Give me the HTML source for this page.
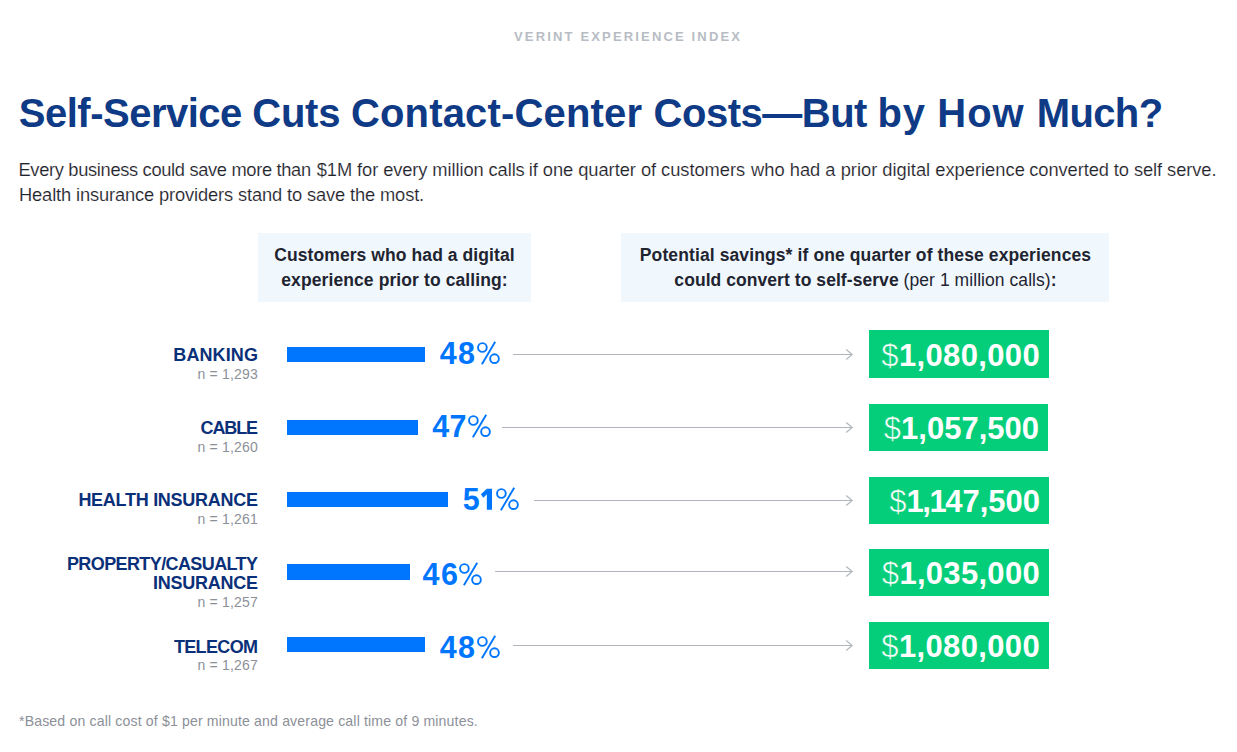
<!DOCTYPE html>
<html><head><meta charset="utf-8"><style>
html,body{margin:0;padding:0;background:#fff;}
body{width:1237px;height:752px;position:relative;overflow:hidden;font-family:"Liberation Sans", sans-serif;}
.t{position:absolute;white-space:nowrap;}
.r{position:absolute;}
</style></head><body>
<div class="t" style="top:29.99px;font-size:13px;line-height:13px;font-weight:700;color:#b7bcc4;letter-spacing:2.16px;left:514px;">VERINT EXPERIENCE INDEX</div>
<div class="t" style="top:93.13px;font-size:40px;line-height:40px;font-weight:700;color:#0f3a85;letter-spacing:-0.51px;left:18.85px;">Self-Service</div>
<div class="t" style="top:93.13px;font-size:40px;line-height:40px;font-weight:700;color:#0f3a85;letter-spacing:-0.28px;left:252.36px;">Cuts</div>
<div class="t" style="top:93.13px;font-size:40px;line-height:40px;font-weight:700;color:#0f3a85;letter-spacing:0.17px;left:350.96px;">Contact-Center</div>
<div class="t" style="top:93.13px;font-size:40px;line-height:40px;font-weight:700;color:#0f3a85;letter-spacing:-0.49px;left:653.56px;">Costs—But</div>
<div class="t" style="top:93.13px;font-size:40px;line-height:40px;font-weight:700;color:#0f3a85;letter-spacing:0.65px;left:877.56px;">by</div>
<div class="t" style="top:93.13px;font-size:40px;line-height:40px;font-weight:700;color:#0f3a85;letter-spacing:0.99px;left:937.32px;">How</div>
<div class="t" style="top:93.13px;font-size:40px;line-height:40px;font-weight:700;color:#0f3a85;letter-spacing:-0.65px;left:1036.82px;">Much?</div>
<div class="t" style="top:160.51px;font-size:18.3px;line-height:18.3px;font-weight:400;color:#1f232b;letter-spacing:-0.33px;left:18.5px;-webkit-text-stroke:0.15px #fff;">Every business could save more than</div>
<div class="t" style="top:160.51px;font-size:18.3px;line-height:18.3px;font-weight:400;color:#1f232b;letter-spacing:-0.09px;left:316.8px;-webkit-text-stroke:0.15px #fff;">$1M for every million calls</div>
<div class="t" style="top:160.51px;font-size:18.3px;line-height:18.3px;font-weight:400;color:#1f232b;letter-spacing:-0.04px;left:528.7px;-webkit-text-stroke:0.15px #fff;">if one quarter of customers</div>
<div class="t" style="top:160.51px;font-size:18.3px;line-height:18.3px;font-weight:400;color:#1f232b;letter-spacing:0.01px;left:751.1px;-webkit-text-stroke:0.15px #fff;">who had a prior digital experience</div>
<div class="t" style="top:160.51px;font-size:18.3px;line-height:18.3px;font-weight:400;color:#1f232b;letter-spacing:-0.08px;left:1029.3px;-webkit-text-stroke:0.15px #fff;">converted to self serve.</div>
<div class="t" style="top:185.51px;font-size:18.3px;line-height:18.3px;font-weight:400;color:#1f232b;letter-spacing:-0.13px;left:19px;-webkit-text-stroke:0.15px #fff;">Health insurance providers stand to save the most.</div>
<div class="r" style="left:258px;top:233px;width:273px;height:69px;background:#f0f8fe"></div>
<div class="r" style="left:621px;top:233px;width:488px;height:69px;background:#f0f8fe"></div>
<div class="t" style="top:247.48px;font-size:17.5px;line-height:17.5px;font-weight:700;color:#1f2430;letter-spacing:0.08px;left:-205.5px;width:1200px;text-align:center;">Customers who had a digital</div>
<div class="t" style="top:272.48px;font-size:17.5px;line-height:17.5px;font-weight:700;color:#1f2430;letter-spacing:0.1px;left:-205.5px;width:1200px;text-align:center;">experience prior to calling:</div>
<div class="t" style="top:247.48px;font-size:17.5px;line-height:17.5px;font-weight:700;color:#1f2430;letter-spacing:0.11px;left:265.5px;width:1200px;text-align:center;">Potential savings* if one quarter of these experiences</div>
<div class="t" style="top:272.48px;font-size:17.5px;line-height:17.5px;font-weight:700;color:#1f2430;letter-spacing:0.06px;left:265.5px;width:1200px;text-align:center;">could convert to self-serve <span style="font-weight:400">(per 1 million calls)</span>:</div>
<div class="t" style="top:345.66px;font-size:18px;line-height:18px;font-weight:700;color:#0a3079;letter-spacing:0.1px;right:979px;text-align:right;">BANKING</div>
<div class="t" style="top:367.05px;font-size:14px;line-height:14px;font-weight:400;color:#8c9099;letter-spacing:0.2px;right:979px;text-align:right;">n = 1,293</div>
<div class="r" style="left:287px;top:347px;width:138px;height:15px;background:#0076ff"></div>
<div class="t" style="top:338.18px;font-size:30.5px;line-height:30.5px;font-weight:700;color:#0076ff;left:439.71px;">4</div>
<div class="t" style="top:338.18px;font-size:30.5px;line-height:30.5px;font-weight:700;color:#0076ff;left:458.12px;">8</div>
<svg class="r" style="left:474.8px;top:337.8px" width="28" height="30"><g transform="translate(2,26)" stroke="#0076ff" stroke-width="1.9" fill="none"><circle cx="5.4" cy="-16.5" r="4.35"/><circle cx="17.5" cy="-5.35" r="4.35"/><path d="M4.9 0.2L18.2 -22.3"/></g></svg>
<svg class="r" style="left:513px;top:346px" width="342.2" height="17"><path d="M0 8.5H339.2M333.2 3.5L339.2 8.5L333.2 13.5" stroke="#b0b5bc" stroke-width="1.1" fill="none"/></svg>
<div class="r" style="left:869px;top:330px;width:180px;height:48px;background:#05ce7a"></div>
<div class="t" style="top:339.65px;font-size:31px;line-height:31px;font-weight:700;color:#fff;letter-spacing:0.35px;right:197px;text-align:right;"><span style="font-weight:400;-webkit-text-stroke:0.6px #05ce7a">$</span>1,080,000</div>
<div class="t" style="top:418.56px;font-size:18px;line-height:18px;font-weight:700;color:#0a3079;letter-spacing:-1.15px;right:980.15px;text-align:right;">CABLE</div>
<div class="t" style="top:440.15px;font-size:14px;line-height:14px;font-weight:400;color:#8c9099;letter-spacing:0.2px;right:979px;text-align:right;">n = 1,260</div>
<div class="r" style="left:287px;top:420px;width:131px;height:15px;background:#0076ff"></div>
<div class="t" style="top:411.28px;font-size:30.5px;line-height:30.5px;font-weight:700;color:#0076ff;left:432.21px;">4</div>
<div class="t" style="top:411.28px;font-size:30.5px;line-height:30.5px;font-weight:700;color:#0076ff;left:449.5px;">7</div>
<svg class="r" style="left:466.4px;top:410.9px" width="28" height="30"><g transform="translate(2,26)" stroke="#0076ff" stroke-width="1.9" fill="none"><circle cx="5.4" cy="-16.5" r="4.35"/><circle cx="17.5" cy="-5.35" r="4.35"/><path d="M4.9 0.2L18.2 -22.3"/></g></svg>
<svg class="r" style="left:502px;top:419px" width="353.2" height="17"><path d="M0 8.5H350.2M344.2 3.5L350.2 8.5L344.2 13.5" stroke="#b0b5bc" stroke-width="1.1" fill="none"/></svg>
<div class="r" style="left:869px;top:404px;width:179px;height:47px;background:#05ce7a"></div>
<div class="t" style="top:412.65px;font-size:31px;line-height:31px;font-weight:700;color:#fff;right:198px;text-align:right;"><span style="font-weight:400;-webkit-text-stroke:0.6px #05ce7a">$</span>1,057,500</div>
<div class="t" style="top:490.66px;font-size:18px;line-height:18px;font-weight:700;color:#0a3079;letter-spacing:-0.27px;right:979.27px;text-align:right;">HEALTH INSURANCE</div>
<div class="t" style="top:511.75px;font-size:14px;line-height:14px;font-weight:400;color:#8c9099;letter-spacing:0.2px;right:979px;text-align:right;">n = 1,261</div>
<div class="r" style="left:287px;top:492px;width:161px;height:15px;background:#0076ff"></div>
<div class="t" style="top:484.18px;font-size:30.5px;line-height:30.5px;font-weight:700;color:#0076ff;left:462.72px;">5</div>
<svg class="r" style="left:0;top:0" width="1237" height="752"><polygon points="486.83,488.85 492.00,488.85 492.00,509.80 486.83,509.80 486.83,494.25 483.30,497.65 480.90,494.35" fill="#0076ff"/></svg>
<svg class="r" style="left:494.4px;top:483.8px" width="28" height="30"><g transform="translate(2,26)" stroke="#0076ff" stroke-width="1.9" fill="none"><circle cx="5.4" cy="-16.5" r="4.35"/><circle cx="17.5" cy="-5.35" r="4.35"/><path d="M4.9 0.2L18.2 -22.3"/></g></svg>
<svg class="r" style="left:534px;top:492px" width="321.2" height="17"><path d="M0 8.5H318.2M312.2 3.5L318.2 8.5L312.2 13.5" stroke="#b0b5bc" stroke-width="1.1" fill="none"/></svg>
<div class="r" style="left:869px;top:477px;width:180px;height:47px;background:#05ce7a"></div>
<div class="t" style="top:485.65px;font-size:31px;line-height:31px;font-weight:700;color:#fff;right:197px;text-align:right;"><span style="font-weight:400;-webkit-text-stroke:0.6px #05ce7a">$</span><span style="letter-spacing:-1.5px">1,1</span>47,500</div>
<div class="t" style="top:554.56px;font-size:18px;line-height:18px;font-weight:700;color:#0a3079;letter-spacing:-0.6px;right:979.6px;text-align:right;">PROPERTY/CASUALTY</div>
<div class="t" style="top:573.56px;font-size:18px;line-height:18px;font-weight:700;color:#0a3079;letter-spacing:-0.25px;right:979.25px;text-align:right;">INSURANCE</div>
<div class="t" style="top:594.85px;font-size:14px;line-height:14px;font-weight:400;color:#8c9099;letter-spacing:0.2px;right:979px;text-align:right;">n = 1,257</div>
<div class="r" style="left:287px;top:564px;width:123px;height:16px;background:#0076ff"></div>
<div class="t" style="top:559.18px;font-size:30.5px;line-height:30.5px;font-weight:700;color:#0076ff;left:422.61px;">4</div>
<div class="t" style="top:559.18px;font-size:30.5px;line-height:30.5px;font-weight:700;color:#0076ff;left:441.0px;">6</div>
<svg class="r" style="left:456.9px;top:558.8px" width="28" height="30"><g transform="translate(2,26)" stroke="#0076ff" stroke-width="1.9" fill="none"><circle cx="5.4" cy="-16.5" r="4.35"/><circle cx="17.5" cy="-5.35" r="4.35"/><path d="M4.9 0.2L18.2 -22.3"/></g></svg>
<svg class="r" style="left:495px;top:563px" width="360.2" height="17"><path d="M0 8.5H357.2M351.2 3.5L357.2 8.5L351.2 13.5" stroke="#b0b5bc" stroke-width="1.1" fill="none"/></svg>
<div class="r" style="left:869px;top:549px;width:180px;height:47px;background:#05ce7a"></div>
<div class="t" style="top:557.65px;font-size:31px;line-height:31px;font-weight:700;color:#fff;letter-spacing:0.3px;right:197px;text-align:right;"><span style="font-weight:400;-webkit-text-stroke:0.6px #05ce7a">$</span>1,035,000</div>
<div class="t" style="top:637.66px;font-size:18px;line-height:18px;font-weight:700;color:#0a3079;letter-spacing:-0.65px;right:979.65px;text-align:right;">TELECOM</div>
<div class="t" style="top:657.85px;font-size:14px;line-height:14px;font-weight:400;color:#8c9099;letter-spacing:0.2px;right:979px;text-align:right;">n = 1,267</div>
<div class="r" style="left:287px;top:637px;width:138px;height:15px;background:#0076ff"></div>
<div class="t" style="top:632.18px;font-size:30.5px;line-height:30.5px;font-weight:700;color:#0076ff;left:439.71px;">4</div>
<div class="t" style="top:632.18px;font-size:30.5px;line-height:30.5px;font-weight:700;color:#0076ff;left:458.12px;">8</div>
<svg class="r" style="left:474.9px;top:631.8px" width="28" height="30"><g transform="translate(2,26)" stroke="#0076ff" stroke-width="1.9" fill="none"><circle cx="5.4" cy="-16.5" r="4.35"/><circle cx="17.5" cy="-5.35" r="4.35"/><path d="M4.9 0.2L18.2 -22.3"/></g></svg>
<svg class="r" style="left:513px;top:637px" width="342.2" height="17"><path d="M0 8.5H339.2M333.2 3.5L339.2 8.5L333.2 13.5" stroke="#b0b5bc" stroke-width="1.1" fill="none"/></svg>
<div class="r" style="left:869px;top:622px;width:180px;height:47px;background:#05ce7a"></div>
<div class="t" style="top:630.65px;font-size:31px;line-height:31px;font-weight:700;color:#fff;letter-spacing:0.35px;right:197px;text-align:right;"><span style="font-weight:400;-webkit-text-stroke:0.6px #05ce7a">$</span>1,080,000</div>
<div class="t" style="top:714.06px;font-size:14.1px;line-height:14.1px;font-weight:400;color:#8c9099;letter-spacing:0.15px;left:19px;">*Based on call cost of $1 per minute and average call time of 9 minutes.</div>
</body></html>
